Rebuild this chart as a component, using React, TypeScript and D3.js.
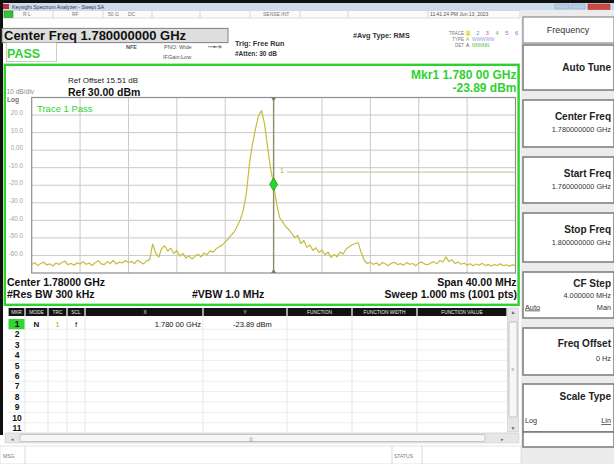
import React from 'react';
import * as d3 from 'd3';

const traceDbm = [
  -65.2, -64.1, -65.8, -64.6, -63.9, -65.4, -64.8, -66.0, -64.3, -65.1,
  -64.0, -63.2, -65.3, -64.5, -65.6, -64.2, -64.9, -63.6, -65.0, -64.4,
  -65.7, -64.1, -63.0, -64.8, -65.2, -63.5, -64.6, -62.8, -64.9, -63.7,
  -64.3, -62.9, -64.0, -63.4, -64.6, -62.7, -63.9, -64.8, -63.1, -62.4,
  -53.5, -58.5, -61.0, -56.0, -54.5, -57.5, -55.8, -58.9, -57.2, -60.4,
  -58.8, -61.5, -60.2, -62.0, -60.5, -59.3, -60.8, -58.6, -59.5, -57.4,
  -58.1, -56.2, -55.0, -54.1, -52.3, -50.6, -48.4, -46.5, -43.2, -39.5,
  -34.0, -24.5, -8.0, 3.5, 12.0, 19.5, 22.6, 15.0, 2.0, -10.5,
  -19.5, -30.5, -38.5, -41.0, -43.5, -45.2, -47.5, -49.8, -48.6, -53.2,
  -51.5, -55.4, -54.0, -57.2, -55.6, -58.3, -57.0, -59.6, -58.1, -61.2,
  -59.4, -60.8, -58.0, -59.2, -56.3, -55.1, -53.9, -53.2, -52.8, -58.5,
  -62.9, -64.6,
  -63.8, -65.1, -64.2, -65.6, -64.0, -64.9, -65.8, -64.3, -63.9, -65.2,
  -64.7, -65.5, -64.1, -65.0, -64.6, -65.9, -64.4, -63.8, -64.9, -65.3,
  -64.2, -63.6, -64.8, -62.9, -63.7, -60.8, -63.5, -62.4, -64.6, -63.8,
  -65.0, -64.3, -65.4, -64.7, -65.9, -64.9, -65.6, -64.5, -65.8, -65.1,
  -66.0, -65.2, -65.7, -64.8, -65.9, -65.3, -66.1, -65.4, -65.8,
];

const startMHz = 1760;
const stopMHz = 1800;
const centerMHz = 1780;
const refLevel = 30;
const bottomLevel = -70;
const limitDbm = -12.5;

const yTickValues = [20, 10, 0, -10, -20, -30, -40, -50, -60];
const yTickLabels = ['20.0', '10.0', '0.00', '-10.0', '-20.0', '-30.0', '-40.0', '-50.0', '-60.0'];
const xDivisions = [1760, 1764, 1768, 1772, 1776, 1780, 1784, 1788, 1792, 1796, 1800];

const tableHeaders = ['MKR', 'MODE', 'TRC', 'SCL', 'X', 'Y', 'FUNCTION', 'FUNCTION WIDTH', 'FUNCTION VALUE'];
const rowNumbers = ['1', '2', '3', '4', '5', '6', '7', '8', '9', '10', '11'];
const statusCells = ['R L', 'RF', '50 Ω', 'DC', 'SENSE:INT'];
const traceDigits = ['1', '2', '3', '4', '5', '6'];
const traceDigitColors = ['#b5a800', '#27a9cf', '#d43fb8', '#3dbb3d', '#8b63f0', '#6d6df0'];

const softkeyTitles = ['Auto Tune', 'Center Freq', 'Start Freq', 'Stop Freq', 'CF Step', 'Freq Offset', 'Scale Type'];
const softkeyValues = ['', '1.780000000 GHz', '1.760000000 GHz', '1.800000000 GHz', '4.000000 MHz', '0 Hz', ''];

const FONT = 'Liberation Sans, Arial, sans-serif';
const GREEN = '#2fd12f';
const TRACE = '#c4bd3e';

export default function App() {
  const left = 31.7;
  const right = 515.5;
  const top = 97.5;
  const bottom = 273;

  const x = d3.scaleLinear().domain([startMHz, stopMHz]).range([left, right]);
  const y = d3.scaleLinear().domain([bottomLevel, refLevel]).range([bottom, top]);
  const step = (stopMHz - startMHz) / (traceDbm.length - 1);
  const line = d3
    .line<number>()
    .x((_, i) => x(startMHz + i * step))
    .y((d) => y(d));

  const mkrIndex = Math.round((centerMHz - startMHz) / step);
  const mx = x(centerMHz);
  const my = y(traceDbm[mkrIndex]);

  // softkey boxes (top, bottom) in px
  const keyBoxes = [
    [45, 90], [100, 147], [157, 203], [213, 262], [272, 318], [328, 375], [384, 432],
  ];
  const keyTitleDy = [0, 20, 20, 20, 14.5, 19, 16];
  const keyValueDy = [0, 32, 32, 32, 25.5, 33, 0];
  const colLines = [25, 48, 67, 85, 203, 287, 352, 417, 507];
  const headerCenters = [16.5, 36.5, 57.5, 76, 145, 245, 319.5, 384.5, 462];
  const rowY = (i: number) => 324 + i * 10.4;

  return (
    <svg
      width={614}
      height={464}
      style={{ position: 'absolute', left: 0, top: 0, fontFamily: FONT }}
    >
      <rect width={614} height={464} fill="#ffffff" />
      {/* top strip + title bar */}
      <rect x={0} y={0} width={614} height={3} fill="#111" />
      <rect x={0} y={3} width={614} height={7.5} fill="#cbdaec" />
      <rect x={2} y={4} width={7} height={5} fill="#b33" />
      <text x={12} y={8.6} fontSize={5.2} fill="#334">Keysight Spectrum Analyzer - Swept SA</text>
      <rect x={555} y={4} width={14} height={5} fill="#b9cbe2" stroke="#8da6c6" strokeWidth={0.5} />
      <rect x={571} y={4} width={14} height={5} fill="#b9cbe2" stroke="#8da6c6" strokeWidth={0.5} />
      <rect x={588} y={4} width={22} height={5.5} fill="#d0483c" stroke="#9a2e26" strokeWidth={0.5} />

      {/* status row */}
      <rect x={3} y={10.5} width={517} height={7.5} fill="#fbfbfb" stroke="#c4c4c4" strokeWidth={0.6} />
      <rect x={4} y={11} width={9} height={6.5} fill="#33c433" stroke="#157015" strokeWidth={0.5} />
      {[53, 103, 152, 200, 250, 300, 348, 428].map((d) => (
        <line key={d} x1={d} x2={d} y1={10.5} y2={18} stroke="#c4c4c4" strokeWidth={0.6} />
      ))}
      {statusCells.map((t, i) => (
        <text key={t} x={[23, 72, 108, 128, 263][i]} y={16} fontSize={5} fill="#777">{t}</text>
      ))}
      <text x={430} y={16} fontSize={5} fill="#555">11:41:24 PM Jun 13, 2023</text>

      {/* right column */}
      <rect x={521} y={10.5} width={93} height={453.5} fill="#ececec" />
      <rect x={523} y={17} width={91} height={26} fill="#fff" stroke="#8a8a8a" strokeWidth={1.2} />
      <text x={568} y={33} fontSize={9} textAnchor="middle" fill="#333">Frequency</text>
      {softkeyTitles.map((t, i) => {
        const [t0, t1] = keyBoxes[i];
        const titleY = i === 0 ? (t0 + t1) / 2 + 3.5 : t0 + keyTitleDy[i];
        return (
          <g key={t}>
            <rect x={523} y={t0} width={91} height={t1 - t0} fill="#fff" stroke="#7a7a7a" strokeWidth={1.5} />
            <text x={611} y={titleY} fontSize={10} fontWeight="bold" textAnchor="end" fill="#222">{t}</text>
            {softkeyValues[i] !== '' && (
              <text x={611} y={t0 + keyValueDy[i]} fontSize={7.3} textAnchor="end" fill="#333">{softkeyValues[i]}</text>
            )}
          </g>
        );
      })}
      <text x={525} y={309.5} fontSize={7.3} fill="#333" textDecoration="underline">Auto</text>
      <text x={611} y={309.5} fontSize={7.3} textAnchor="end" fill="#333">Man</text>
      <text x={525} y={423} fontSize={7.3} fill="#333">Log</text>
      <text x={611} y={423} fontSize={7.3} textAnchor="end" fill="#333" textDecoration="underline">Lin</text>
      <rect x={523} y={432} width={91} height={15} fill="#fff" stroke="#7a7a7a" strokeWidth={1.5} />

      {/* left black edge */}
      <rect x={0} y={3} width={3} height={432} fill="#111" />

      {/* header block */}
      <rect x={2} y={28.3} width={226} height={14.4} fill="#dedede" stroke="#666" strokeWidth={0.8} />
      <text x={4} y={40} fontSize={13} fontWeight="bold" fill="#111">Center Freq 1.780000000 GHz</text>
      <rect x={6.5} y={42.7} width={50} height={19} fill="#fff" stroke="#aaa" strokeWidth={0.6} />
      <text x={7} y={58} fontSize={12.5} fontWeight="bold" fill={GREEN}>PASS</text>
      <text x={126} y={48.5} fontSize={5.5} fill="#555" fontWeight="bold">NFE</text>
      <text x={164} y={48.5} fontSize={5.5} fill="#555">PNO: Wide</text>
      <line x1={208} x2={221} y1={46.8} y2={46.8} stroke="#555" strokeWidth={0.7} />
      <circle cx={214.5} cy={46.8} r={1} fill="#555" />
      <path d="M219,45.3 L221.5,46.8 L219,48.3" fill="none" stroke="#555" strokeWidth={0.7} />
      <text x={163} y={59} fontSize={5.5} fill="#555">IFGain:Low</text>
      <text x={235} y={46} fontSize={7.3} fontWeight="bold" fill="#333">Trig: Free Run</text>
      <text x={235} y={55.5} fontSize={6.5} fontWeight="bold" fill="#333">#Atten: 30 dB</text>
      <text x={353} y={37.5} fontSize={7.3} fontWeight="bold" fill="#333">#Avg Type: RMS</text>
      <text x={464} y={35} fontSize={4.5} textAnchor="end" fill="#777">TRACE</text>
      <text x={464} y={41} fontSize={4.5} textAnchor="end" fill="#777">TYPE</text>
      <text x={464} y={47} fontSize={4.5} textAnchor="end" fill="#777">DET</text>
      <rect x={465.5} y={30.5} width={5} height={5.5} fill="#f4ef9a" />
      {traceDigits.map((d, i) => (
        <text key={d} x={468 + i * 9.7} y={35} fontSize={5.5} textAnchor="middle" fill={traceDigitColors[i]}>{d}</text>
      ))}
      <text x={466} y={41} fontSize={4.8} fill="#b5a800">A</text>
      <text x={472} y={41} fontSize={4.8} fill="#9a9ad8">WWWWW</text>
      <text x={466} y={47} fontSize={4.8} fill="#444">A</text>
      <text x={472} y={47} fontSize={4.8} fill="#3dbb3d">NNNNN</text>

      {/* graph panel */}
      <rect x={4.8} y={64.8} width={513.8} height={240} fill="#fff" stroke={GREEN} strokeWidth={2.4} />
      <text x={68} y={83} fontSize={8} fill="#222">Ref Offset 15.51 dB</text>
      <text x={68} y={95.5} fontSize={10.5} fontWeight="bold" fill="#111">Ref 30.00 dBm</text>
      <text x={6.5} y={94} fontSize={6.6} fill="#8a8a8a">10 dB/div</text>
      <text x={7} y={101.8} fontSize={6.6} fontWeight="bold" fill="#777">Log</text>
      <text x={516.5} y={78.5} fontSize={12} fontWeight="bold" textAnchor="end" fill={GREEN}>Mkr1 1.780 00 GHz</text>
      <text x={516.5} y={91.5} fontSize={12} fontWeight="bold" textAnchor="end" fill={GREEN}>-23.89 dBm</text>

      {/* grid */}
      {yTickValues.map((v) => (
        <line key={v} x1={left} x2={right} y1={y(v)} y2={y(v)} stroke="#c9c9c9" strokeWidth={1} />
      ))}
      {xDivisions.slice(1, -1).map((f) => (
        <line key={f} x1={x(f)} x2={x(f)} y1={top} y2={bottom} stroke="#c9c9c9" strokeWidth={1} />
      ))}
      <rect x={left} y={top} width={right - left} height={bottom - top} fill="none" stroke="#8d8d8d" strokeWidth={1.2} />
      {yTickValues.map((v, i) => (
        <text key={v} x={23} y={y(v) - 1.5} fontSize={6.3} textAnchor="end" dominantBaseline="middle" fill="#a4a4a4">
          {yTickLabels[i]}
        </text>
      ))}
      <text x={37} y={111.5} fontSize={9.5} fill={GREEN}>Trace 1 Pass</text>

      {/* center / marker line */}
      <line x1={mx} x2={mx} y1={top} y2={bottom} stroke="#8f8c6a" strokeWidth={1.4} />
      <path d={`M${mx - 2.5},${top} L${mx + 2.5},${top} L${mx},${top + 4} Z`} fill="#777" />
      <path d={`M${mx - 2.5},${bottom} L${mx + 2.5},${bottom} L${mx},${bottom - 4} Z`} fill="#777" />

      {/* marker level line */}
      <line x1={287} x2={right} y1={y(limitDbm)} y2={y(limitDbm)} stroke="#c9c27a" strokeWidth={1} />
      <text x={280} y={y(limitDbm) + 0.5} fontSize={7} fill="#b5ad3c">1</text>

      {/* trace */}
      <path d={line(traceDbm) ?? ''} fill="none" stroke={TRACE} strokeWidth={1.2} strokeLinejoin="round" />

      {/* marker */}
      <path
        d={`M${mx},${my - 6.5} L${mx + 4},${my} L${mx},${my + 6.5} L${mx - 4},${my} Z`}
        fill="#2bd42b"
        stroke="#149014"
        strokeWidth={0.7}
      />

      {/* bottom annotations */}
      <text x={7} y={285.5} fontSize={10.5} fontWeight="bold" fill="#111">Center 1.78000 GHz</text>
      <text x={516.5} y={285.5} fontSize={10.5} fontWeight="bold" textAnchor="end" fill="#111">Span 40.00 MHz</text>
      <text x={7} y={298} fontSize={10.5} fontWeight="bold" fill="#111">#Res BW 300 kHz</text>
      <text x={192} y={298} fontSize={10.5} fontWeight="bold" fill="#111">#VBW 1.0 MHz</text>
      <text x={517} y={298} fontSize={10.5} fontWeight="bold" textAnchor="end" fill="#111">Sweep  1.000 ms (1001 pts)</text>

      {/* marker table */}
      <rect x={5} y={307.5} width={514} height={125} fill="#fff" />
      {[8, ...colLines].slice(0, -1).map((c, i) => (
        <rect key={c} x={c + 0.6} y={308} width={colLines[i] - c - 1.2} height={8} fill="#121212" />
      ))}
      {tableHeaders.map((h, i) => (
        <text key={h} x={headerCenters[i]} y={314} fontSize={4.8} textAnchor="middle" fill="#e8e8e8">{h}</text>
      ))}
      <rect x={507.5} y={308} width={11} height={124} fill="#e6e6e6" stroke="#c2c2c2" strokeWidth={0.5} />
      <rect x={509} y={322} width={8} height={95} fill="#f7f7f7" stroke="#a8a8a8" strokeWidth={0.6} rx={1} />
      <text x={513} y={314} fontSize={5} textAnchor="middle" fill="#666">▲</text>
      <text x={513} y={430} fontSize={5} textAnchor="middle" fill="#666">▼</text>
      <text x={513} y={371} fontSize={5} textAnchor="middle" fill="#888">≡</text>
      {colLines.slice(0, -1).map((c) => (
        <line key={c} x1={c} x2={c} y1={316} y2={432} stroke="#dadada" strokeWidth={0.6} />
      ))}
      {rowNumbers.map((r, i) => (
        <line key={`l${r}`} x1={8} x2={507} y1={rowY(i) + 5.2} y2={rowY(i) + 5.2} stroke="#e3e3e3" strokeWidth={0.6} />
      ))}
      <rect x={8.5} y={319} width={16} height={10.2} fill="#33d433" />
      {rowNumbers.map((r, i) => (
        <text key={r} x={17} y={rowY(i) + 3} fontSize={8.5} fontWeight="bold" textAnchor="middle" fill="#111">{r}</text>
      ))}
      <text x={36.5} y={327} fontSize={8} fontWeight="bold" textAnchor="middle" fill="#111">N</text>
      <text x={57.5} y={327} fontSize={8} textAnchor="middle" fill="#b8ad10">1</text>
      <text x={76} y={327} fontSize={8} textAnchor="middle" fill="#111">f</text>
      <text x={201} y={327} fontSize={7.5} textAnchor="end" fill="#111">1.780 00 GHz</text>
      <text x={233} y={327} fontSize={7.5} fill="#111">-23.89 dBm</text>

      {/* horizontal scrollbar */}
      <rect x={5} y={433} width={514} height={10} fill="#e6e6e6" stroke="#c6c6c6" strokeWidth={0.5} />
      <rect x={20} y={434.5} width={465} height={7} fill="#f6f6f6" stroke="#a8a8a8" strokeWidth={0.6} rx={1} />
      <text x={12} y={440.5} fontSize={5} textAnchor="middle" fill="#666">◂</text>
      <text x={502} y={440.5} fontSize={5} textAnchor="middle" fill="#666">▸</text>
      <text x={251} y={440.5} fontSize={4.5} textAnchor="middle" fill="#888">|||</text>

      {/* message bar */}
      <rect x={0} y={446} width={521} height={18} fill="#fff" stroke="#d0d0d0" strokeWidth={0.6} />
      <line x1={25} x2={25} y1={446} y2={464} stroke="#cfcfcf" strokeWidth={0.8} />
      <line x1={392} x2={392} y1={446} y2={464} stroke="#cfcfcf" strokeWidth={0.8} />
      <line x1={422} x2={422} y1={446} y2={464} stroke="#cfcfcf" strokeWidth={0.8} />
      <text x={3} y={458} fontSize={5} fill="#777">MSG</text>
      <text x={394} y={458} fontSize={5} fill="#777">STATUS</text>
    </svg>
  );
}
